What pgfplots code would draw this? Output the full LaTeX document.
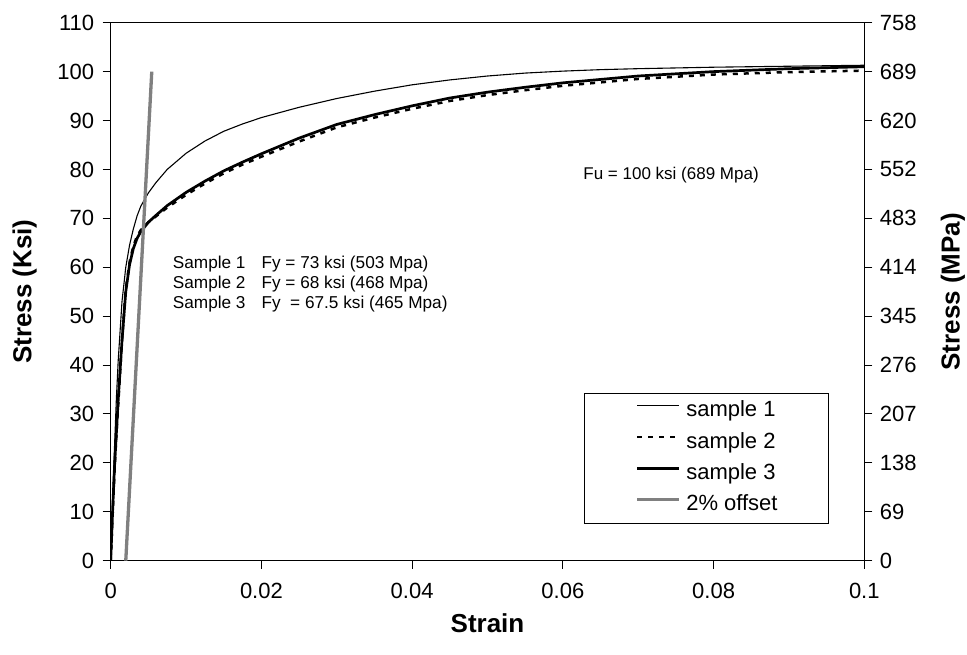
\documentclass[border=0pt]{standalone}
\usepackage{fontspec}
\setmainfont{Liberation Sans}
\usepackage{pgfplots}
\pgfplotsset{compat=1.18}
\definecolor{offgray}{HTML}{808080}
\begin{document}
\begin{tikzpicture}
\pgfplotsset{
  common/.style={
    scale only axis, width=753.6pt, height=538pt,
    xmin=0, xmax=0.1, ymin=0, ymax=110,
    axis line style={line width=1pt, black},
    tick align=outside, major tick length=8pt,
    tick style={line width=1pt, black},
    ticklabel style={font=\fontsize{22}{26}\selectfont},
    /pgf/number format/assume math mode=true,
    label style={font=\fontsize{26}{30}\selectfont\bfseries},
    ytick={0,10,...,110},
  }
}
\begin{axis}[common,
  xtick={0,0.02,0.04,0.06,0.08,0.1},
  xticklabels={0,0.02,0.04,0.06,0.08,0.1},
  scaled x ticks=false,
  xtick pos=bottom, ytick pos=left,
  xticklabel shift=11pt, yticklabel shift=5pt,
  xlabel={Strain}, ylabel={Stress (Ksi)},
  xlabel style={at={(axis description cs:0.5,-0.1158)}, anchor=center},
  ylabel style={at={(axis description cs:-0.1141,0.5)}, anchor=center},
  legend style={at={(axis description cs:0.628,0.312)}, anchor=north west,
    draw=black, line width=0.8pt, font=\fontsize{22}{26}\selectfont,
    inner xsep=51pt, inner ysep=7.5pt, row sep=10.3pt, column sep=6pt,
    nodes={inner sep=0pt, text height=16pt, text depth=5pt}},
  legend cell align=left,
  legend image code/.code={\draw[#1] (0pt,5.5pt) -- (41.6pt,5.5pt);},
]
\coordinate (ll) at (rel axis cs:0,0);
\addplot[black, line width=1.1pt] coordinates {
(0,0) (0.00025,12) (0.0005,23) (0.00075,33) (0.001,41) (0.0015,53) (0.002,60)
(0.0025,64.5) (0.003,67.8) (0.0035,70.5) (0.004,72.5) (0.005,75.2) (0.006,77.3)
(0.0075,80) (0.01,83.3) (0.0125,85.8) (0.015,87.8) (0.0175,89.3) (0.02,90.6)
(0.025,92.7) (0.03,94.5) (0.035,96) (0.04,97.3) (0.045,98.3) (0.05,99.1)
(0.055,99.7) (0.06,100.1) (0.065,100.4) (0.07,100.6) (0.08,100.9) (0.09,101.1) (0.1,101.3)};
\addlegendentry{sample 1}
\addplot[black, line width=2.5pt, dash pattern=on 5pt off 6pt] coordinates {
(0,0) (0.00025,9) (0.0005,18) (0.00075,25.5) (0.001,32) (0.0015,45) (0.002,55.5)
(0.0025,61) (0.003,64.3) (0.0035,66.4) (0.004,67.6) (0.005,69.2) (0.006,70.4)
(0.0075,72.2) (0.01,74.8) (0.0125,77.1) (0.015,79.2) (0.0175,81) (0.02,82.6)
(0.025,85.7) (0.03,88.6) (0.035,90.6) (0.04,92.4) (0.045,94) (0.05,95.2)
(0.055,96.2) (0.06,97.1) (0.065,97.8) (0.07,98.5) (0.08,99.4) (0.09,99.9) (0.1,100.2)};
\addlegendentry{sample 2}
\addplot[black, line width=2.7pt] coordinates {
(0,0) (0.00025,10) (0.0005,19) (0.00075,26) (0.001,33) (0.0015,45) (0.002,55)
(0.0025,60.5) (0.003,63.8) (0.0035,65.9) (0.004,67.3) (0.005,69.2) (0.006,70.6)
(0.0075,72.6) (0.01,75.3) (0.0125,77.6) (0.015,79.7) (0.0175,81.5) (0.02,83.2)
(0.025,86.4) (0.03,89.2) (0.035,91.2) (0.04,93) (0.045,94.6) (0.05,95.8)
(0.055,96.8) (0.06,97.7) (0.065,98.4) (0.07,99.1) (0.08,100) (0.09,100.6) (0.1,101)};
\addlegendentry{sample 3}
\addplot[offgray, line width=3.3pt] coordinates {(0.002,0) (0.00545,100)};
\addlegendentry{2\% offset}
\node[anchor=west, inner sep=0pt, font=\fontsize{17.2}{20}\selectfont] at (axis cs:0.00823,56.4)
  {\begin{tabular}{@{}l@{\hspace{16pt}}l@{}}
  Sample 1 & Fy = 73 ksi (503 Mpa)\\
  Sample 2 & Fy = 68 ksi (468 Mpa)\\
  Sample 3 & Fy\ \ = 67.5 ksi (465 Mpa)
  \end{tabular}};
\node[anchor=west, inner sep=0pt, font=\fontsize{17}{20}\selectfont] at (axis cs:0.0627,78.9)
  {Fu = 100 ksi (689 Mpa)};
\end{axis}
\begin{axis}[common,
  axis x line=none, axis y line*=right,
  yticklabels={0,69,138,207,276,345,414,483,552,620,689,758},
  yticklabel shift=4pt,
  ylabel={Stress (MPa)},
  ylabel style={at={(axis description cs:1.1177,0.5)}, anchor=center, rotate=0},
]
\end{axis}
\pgfresetboundingbox
\path[use as bounding box] ([shift={(-110.7pt,-93.3pt)}]ll) rectangle ++(967pt,654pt);
\end{tikzpicture}
\end{document}
